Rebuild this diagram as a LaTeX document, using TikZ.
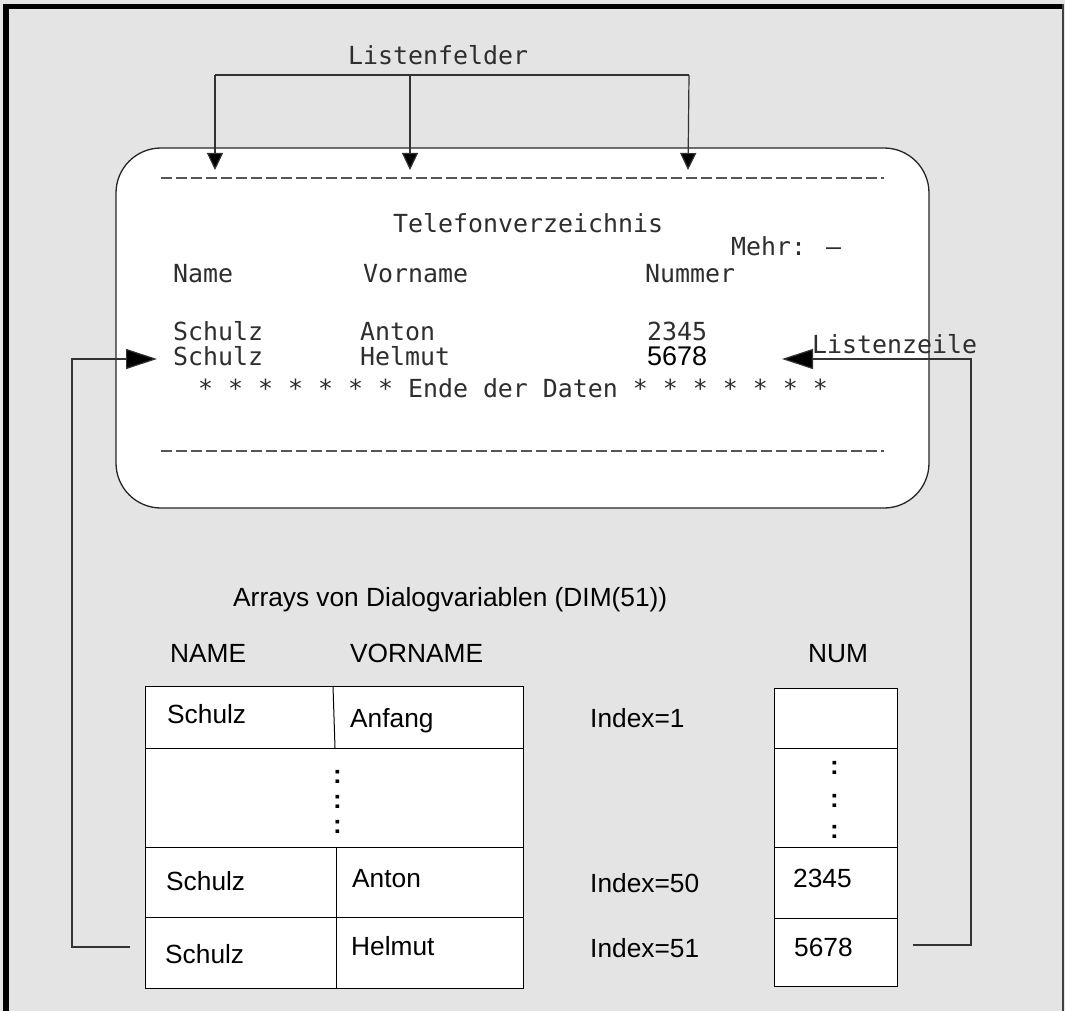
\documentclass[tikz,border=0pt]{standalone}
\usepackage{fontspec}
\setmainfont{Liberation Sans}
\newfontfamily\scrfont{DejaVu Sans Mono}
\usetikzlibrary{arrows.meta}
\definecolor{bggray}{HTML}{E4E4E4}
\definecolor{dashgray}{HTML}{555555}

\begin{document}
\begin{tikzpicture}[x=1pt,y=-1pt,
  scrtext/.style={anchor=base west, inner sep=0pt, text=black!82,
                  font=\scrfont\fontsize{24.9}{26}\selectfont},
  lbl/.style={anchor=base west, inner sep=0pt,
              font=\fontsize{26.3}{28}\selectfont},
  dots/.style={anchor=base west, inner sep=0pt,
              font=\bfseries\fontsize{26}{28}\selectfont},
  cell/.style={draw=black, line width=1pt, fill=white},
  conn/.style={draw=black!80, line width=1.2pt},
  tipdown/.style={-{Triangle[length=17pt,width=16pt,fill=black]}},
  tipside/.style={-{Triangle[length=31pt,width=20pt,fill=black]}},
  screenrule/.style={dashgray, line width=2pt, dash pattern=on 11pt off 4pt},
]
% page and frame
\fill[bggray] (0,0) rectangle (1065,1011);
\useasboundingbox (0,0) rectangle (1065,1011);
\fill[black] (3,4) rectangle (9,1011);
\fill[black] (3,4) rectangle (1063,9);
\fill[black!75] (1062,4) rectangle (1063.5,1011);

% terminal screen
\draw[fill=white, draw=black!85, line width=1.3pt, rounded corners=45pt]
  (116,148) rectangle (929,508);
\draw[screenrule] (161,178) -- (884,178);
\draw[screenrule] (161,451) -- (884,451);

\node[scrtext] (title) at (393,233) {Telefonverzeichnis};
\node[scrtext] (mehr)  at (731,255) {Mehr: –};
\node[scrtext] (hname) at (173,282) {Name};
\node[scrtext] (hvor)  at (363,282) {Vorname};
\node[scrtext] (hnum)  at (645,282) {Nummer};
\node[scrtext] (s1)    at (173,340) {Schulz};
\node[scrtext] (v1)    at (360,340) {Anton};
\node[scrtext] (n1)    at (647,340) {2345};
\node[scrtext] (s2)    at (173,365) {Schulz};
\node[scrtext] (v2)    at (360,365) {Helmut};
\node[anchor=base west, inner sep=0pt, font=\fontsize{27}{28}\selectfont] (n2) at (647,365) {5678};
\node[scrtext] (ende)  at (198,397) {* * * * * * * Ende der Daten * * * * * * *};

% list fields
\node[scrtext] (lfeld) at (348,65) {Listenfelder};
\coordinate (b1) at (215,75);
\coordinate (b2) at (410,75);
\coordinate (b3) at (689,75);
\coordinate (f1) at (215,170);
\coordinate (f2) at (410,170);
\coordinate (f3) at (688,170);
\draw[conn] (b1) -- (b3);
\draw[conn, tipdown] (b1) -- (f1);
\draw[conn, tipdown] (b2) -- (f2);
\draw[conn, tipdown] (b3) -- (f3);

% list row label
\node[scrtext] (lzeile) at (812,353) {Listenzeile};

% arrays of dialog variables
\node[lbl] (arrays) at (233,606) {Arrays von Dialogvariablen (DIM(51))};
\node[lbl] (cname) at (170,662) {NAME};
\node[lbl] (cvor)  at (350,662) {VORNAME};
\node[lbl] (cnum)  at (808,662) {NUM};

% NAME / VORNAME table
\draw[cell] (145,686) rectangle (523,988);
\draw[line width=1pt] (145,748) -- (523,748);
\draw[line width=1pt] (145,847) -- (523,847);
\draw[line width=1pt] (145,917) -- (523,917);
\draw[line width=1pt] (333,686) -- (335,748);
\draw[line width=1pt] (336,847) -- (336,988);
\node[lbl] (t1a) at (167,723) {Schulz};
\node[lbl] (t1b) at (350,727) {Anfang};
\node[lbl] (t3a) at (166,890) {Schulz};
\node[lbl] (t3b) at (352,887) {Anton};
\node[lbl] (t4a) at (165,963) {Schulz};
\node[lbl] (t4b) at (351,955) {Helmut};
\node[dots] (d1) at (333,783) {:};
\node[dots] (d2) at (333,808) {:};
\node[dots] (d3) at (333,833) {:};

% index labels
\node[lbl] (i1)  at (590,727) {Index=1};
\node[lbl] (i50) at (590,892) {Index=50};
\node[lbl] (i51) at (590,957) {Index=51};

% NUM table
\draw[cell] (774,688) rectangle (897,986);
\draw[line width=1pt] (774,748) -- (897,748);
\draw[line width=1pt] (774,847) -- (897,847);
\draw[line width=1pt] (774,918) -- (897,918);
\node[dots] (e1) at (830,774) {:};
\node[dots] (e2) at (830,807) {:};
\node[dots] (e3) at (830,838) {:};
\node[lbl] (u3) at (793,887) {2345};
\node[lbl] (u4) at (794,956) {5678};

% connectors from row 51 to the list row
\coordinate (lstart) at (130,947);
\coordinate (lcorner1) at (72,947);
\coordinate (lcorner2) at (72,359);
\coordinate (ltip) at (157,359);
\draw[conn, tipside] (lstart) -- (lcorner1) -- (lcorner2) -- (ltip);

\coordinate (rstart) at (913,945);
\coordinate (rcorner1) at (971,945);
\coordinate (rcorner2) at (971,359);
\coordinate (rtip) at (782,359);
\draw[conn, tipside] (rstart) -- (rcorner1) -- (rcorner2) -- (rtip);
\end{tikzpicture}
\end{document}
